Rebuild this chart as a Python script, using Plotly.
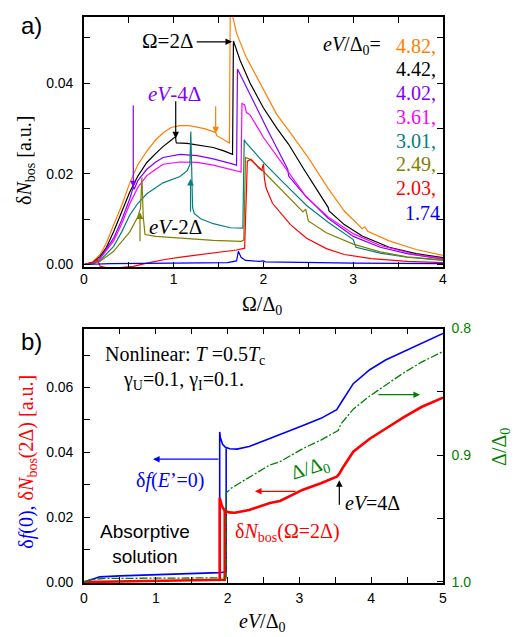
import plotly.graph_objects as go

# ---------------- panel a: delta N_bos(Omega) for several bias voltages ----------------
bias_labels = ["4.82,", "4.42,", "4.02,", "3.61,", "3.01,", "2.49,", "2.03,", "1.74"]
bias_colors = ["#ff8000", "#000000", "#8000ff", "#ff00ff", "#008080", "#808000", "#ff0000", "#0000ff"]

om_482 = [0, 0.1, 0.18, 0.25, 0.33, 0.42, 0.51, 0.6, 0.7, 0.8, 0.88, 0.97, 1.07, 1.17, 1.26, 1.35, 1.44, 1.47, 1.48,
          1.55, 1.62, 1.63, 1.7, 1.8, 2.0, 2.15, 2.3, 2.5, 2.72, 2.9, 3.1, 3.13, 3.16, 3.4, 3.7, 4.0]
n_482 = [0, 0.0006, 0.0022, 0.0048, 0.0087, 0.013, 0.018, 0.022, 0.025, 0.0275, 0.029, 0.0302, 0.0306, 0.0306, 0.0303,
         0.0299, 0.0293, 0.029, 0.0284, 0.0276, 0.0268, 0.057, 0.051, 0.046, 0.0385, 0.033, 0.029, 0.0235, 0.0168,
         0.0118, 0.0079, 0.0083, 0.0073, 0.0052, 0.0033, 0.002]

om_442 = [0, 0.1, 0.18, 0.25, 0.33, 0.42, 0.51, 0.6, 0.7, 0.8, 0.88, 0.97, 1.02, 1.025, 1.03, 1.15, 1.3, 1.44, 1.55,
          1.63, 1.655, 1.665, 1.74, 1.85, 2.0, 2.15, 2.28, 2.45, 2.6, 2.72, 2.73, 2.9, 3.1, 3.4, 3.7, 4.0]
n_442 = [0, 0.0005, 0.0018, 0.0038, 0.0072, 0.0115, 0.016, 0.0195, 0.0225, 0.0245, 0.026, 0.0274, 0.0282, 0.0272,
         0.0268, 0.0267, 0.0263, 0.0258, 0.0251, 0.0246, 0.0243, 0.0493, 0.045, 0.040, 0.0345, 0.030, 0.0265, 0.021,
         0.0163, 0.0126, 0.0118, 0.0088, 0.0063, 0.0038, 0.0024, 0.0015]

om_402 = [0, 0.1, 0.18, 0.33, 0.42, 0.51, 0.545, 0.55, 0.56, 0.6, 0.7, 0.8, 0.88, 1.07, 1.26, 1.44, 1.63, 1.7, 1.71,
          1.76, 1.9, 2.05, 2.2, 2.27, 2.28, 2.45, 2.72, 3.0, 3.3, 3.6, 4.0]
n_402 = [0, 0.0004, 0.0014, 0.0058, 0.0098, 0.0145, 0.0168, 0.0172, 0.0166, 0.0185, 0.021, 0.0226, 0.0236, 0.0243,
         0.024, 0.0233, 0.0223, 0.0219, 0.0431, 0.041, 0.0355, 0.0295, 0.0235, 0.021, 0.0195, 0.0155, 0.0102, 0.0062,
         0.0038, 0.0024, 0.0012]

om_361 = [0, 0.1, 0.18, 0.33, 0.42, 0.51, 0.6, 0.7, 0.8, 0.88, 1.07, 1.26, 1.44, 1.63, 1.75, 1.76, 1.79, 1.81, 1.85,
          2.0, 2.2, 2.48, 2.72, 3.0, 3.3, 3.6, 3.62, 4.0]
n_361 = [0, 0.0003, 0.0013, 0.0052, 0.009, 0.0134, 0.017, 0.0196, 0.021, 0.0221, 0.0226, 0.0225, 0.0219, 0.021, 0.0204,
         0.0355, 0.0352, 0.0335, 0.033, 0.028, 0.0225, 0.0148, 0.0105, 0.0068, 0.0042, 0.0027, 0.0024, 0.0013]

om_301 = [0, 0.1, 0.18, 0.33, 0.42, 0.51, 0.6, 0.7, 0.88, 1.07, 1.15, 1.18, 1.19, 1.21, 1.23, 1.3, 1.44, 1.63, 1.77,
          1.785, 1.8, 2.0, 2.2, 2.48, 2.72, 2.99, 3.0, 3.03, 3.3, 3.6, 4.0]
n_301 = [0, 0.0002, 0.0009, 0.004, 0.0072, 0.0109, 0.0135, 0.0156, 0.018, 0.0194, 0.0207, 0.022, 0.0293, 0.0125,
         0.0112, 0.0101, 0.009, 0.0081, 0.008, 0.0275, 0.027, 0.0225, 0.0185, 0.013, 0.0093, 0.0058, 0.0055, 0.0038,
         0.0025, 0.0016, 0.0009]

om_249 = [0, 0.1, 0.18, 0.33, 0.51, 0.6, 0.63, 0.645, 0.66, 0.68, 0.8, 1.07, 1.44, 1.75, 1.78, 1.80, 1.85, 2.0, 2.2,
          2.44, 2.47, 2.5, 2.7, 3.0, 3.3, 3.6, 4.0]
n_249 = [0, 0.0002, 0.0007, 0.0029, 0.0072, 0.0105, 0.0125, 0.0192, 0.0105, 0.0066, 0.0062, 0.0058, 0.0053, 0.0051,
         0.0054, 0.0236, 0.0232, 0.0205, 0.0165, 0.0116, 0.0122, 0.0096, 0.007, 0.0045, 0.0028, 0.0017, 0.001]

om_203 = [0, 0.1, 0.14, 0.16, 0.18, 0.25, 0.4, 0.55, 0.7, 0.9, 1.1, 1.3, 1.5, 1.7, 1.79, 1.82, 1.86, 1.95, 1.98, 2.0,
          2.01, 2.03, 2.1, 2.3, 2.48, 2.7, 2.9, 3.2, 3.6, 4.0]
n_203 = [0, 0.0004, 0.0012, 0.0006, -0.0004, -0.0007, -0.0007, -0.0004, 0.0003, 0.0011, 0.0017, 0.0022, 0.0027, 0.0032,
         0.0036, 0.0228, 0.0232, 0.0212, 0.0208, 0.0222, 0.019, 0.0168, 0.0135, 0.0088, 0.0058, 0.0035, 0.0022,
         0.0013, 0.0007, 0.0004]

om_174 = [0, 0.3, 1.0, 1.6, 1.7, 1.72, 1.75, 1.8, 1.95, 2.0, 2.02, 2.5, 3.0, 4.0]
n_174 = [0, 0.0002, 0.0003, 0.0004, 0.0008, 0.0029, 0.0016, 0.0009, 0.0007, 0.0008, 0.0006, 0.0004, 0.0003, 0.0002]

panel_a = [(om_482, n_482), (om_442, n_442), (om_402, n_402), (om_361, n_361),
           (om_301, n_301), (om_249, n_249), (om_203, n_203), (om_174, n_174)]

# ---------------- panel b: nonlinear response vs bias ----------------
ev_df = [0, 0.1, 0.22, 0.5, 1.0, 1.5, 1.8, 1.89, 1.94, 1.98, 1.98, None,
         1.89, 1.89, 1.9, 1.93, 1.97, 2.03, 2.13, 2.3, 2.59, 2.73, 3.05, 3.3, 3.52, 3.56, 3.6, 3.75, 3.98, 4.2, 4.45,
         4.7, 5.0]
df0 = [0, 0.0008, 0.0016, 0.0019, 0.0022, 0.0025, 0.0027, 0.0029, 0.003, 0.0031, 0.0413, None,
       0.0029, 0.0463, 0.0445, 0.0425, 0.0416, 0.0411, 0.041, 0.0418, 0.0442, 0.0455, 0.0483, 0.0505, 0.0532, 0.0545,
       0.056, 0.0612, 0.0655, 0.0685, 0.0711, 0.0738, 0.0767]

ev_nb = [0, 0.5, 1.0, 1.5, 1.87, 1.89, 1.96, 1.96, None,
         1.89, 1.89, 1.92, 1.96, 2.02, 2.1, 2.3, 2.59, 2.73, 3.05, 3.3, 3.52, 3.55, 3.6, 3.75, 3.98, 4.2, 4.45, 4.7, 5.0]
nb2d = [0, 0.0002, 0.0003, 0.0005, 0.0006, 0.0006, 0.0007, 0.0219, None,
        0.0006, 0.026, 0.0235, 0.022, 0.0215, 0.0214, 0.0222, 0.0244, 0.025, 0.0285, 0.0305, 0.0325, 0.0332, 0.0351,
        0.0402, 0.0442, 0.0473, 0.0508, 0.054, 0.0569]

ev_gap = [0, 0.1, 0.3, 1.0, 1.5, 1.9, 1.98, 1.98, 2.05, 2.13, 2.36, 2.59, 2.73, 3.05, 3.3, 3.54, 3.58, 3.75, 3.98,
          4.2, 4.45, 4.7, 5.0]
gap = [1.0, 0.998, 0.9972, 0.997, 0.9969, 0.9968, 0.9967, 0.9297, 0.926, 0.9232, 0.9154, 0.9076, 0.905, 0.8947,
       0.888, 0.8804, 0.8752, 0.8636, 0.8532, 0.8445, 0.835, 0.8265, 0.8181]

SERIF = "Liberation Serif"
SANS = "Liberation Sans"
GREEN = "#008000"

fig = go.Figure()
for (xs, ys), col in zip(panel_a, bias_colors):
    fig.add_trace(go.Scatter(x=xs, y=ys, mode="lines", line=dict(color=col, width=1.2),
                             xaxis="x", yaxis="y", showlegend=False, hoverinfo="skip"))

fig.add_trace(go.Scatter(x=ev_gap, y=gap, mode="lines", line=dict(color=GREEN, width=1.3, dash="8px,2px,2px,2px"),
                         xaxis="x2", yaxis="y3", showlegend=False, connectgaps=False))
fig.add_trace(go.Scatter(x=ev_df, y=df0, mode="lines", line=dict(color="#0000ff", width=1.6),
                         xaxis="x2", yaxis="y2", showlegend=False, connectgaps=False))
fig.add_trace(go.Scatter(x=ev_nb, y=nb2d, mode="lines", line=dict(color="#ff0000", width=2.6),
                         xaxis="x2", yaxis="y2", showlegend=False, connectgaps=False))

tickfont = dict(family=SANS, size=14, color="black")
common = dict(showline=True, linecolor="black", linewidth=1.6, ticks="inside", ticklen=6, tickwidth=1.2,
              tickcolor="black", showgrid=False, zeroline=False, tickfont=tickfont)
minor_common = dict(ticks="inside", ticklen=6, tickwidth=1.2, tickcolor="black", showgrid=False)

fig.update_layout(
    width=526, height=637, margin=dict(l=84, r=83, t=9, b=54),
    paper_bgcolor="white", plot_bgcolor="white",
    xaxis=dict(domain=[0, 1], anchor="y", range=[0, 4], tick0=0, dtick=1, mirror="ticks",
               minor=dict(dtick=0.5, **minor_common), ticklabelstandoff=-2, **common),
    yaxis=dict(domain=[0.5575, 1], anchor="x", range=[-0.00065, 0.05457], tick0=0, dtick=0.02, tickformat=".2f",
               mirror="ticks", minor=dict(dtick=0.01, **minor_common), ticklabelstandoff=6, **common),
    xaxis2=dict(domain=[0, 1], anchor="y2", range=[0, 5], tick0=0, dtick=1, mirror="ticks",
                minor=dict(dtick=0.5, **minor_common), ticklabelstandoff=1, **common),
    yaxis2=dict(domain=[0, 0.4495], anchor="x2", range=[-0.0003, 0.0782], tick0=0, dtick=0.02, tickformat=".2f",
                mirror=False, minor=dict(dtick=0.01, **minor_common), ticklabelstandoff=6, **common),
    yaxis3=dict(overlaying="y2", anchor="x2", side="right", range=[1.0008, 0.8], tick0=0.8, dtick=0.1,
                tickformat=".1f", minor=dict(dtick=0.05, **minor_common), ticklabelstandoff=4,
                showline=True, linecolor="black", linewidth=1.6, ticks="inside", ticklen=6, tickwidth=1.2,
                tickcolor="black", showgrid=False, zeroline=False,
                tickfont=dict(family=SANS, size=14, color=GREEN)),
)

ann = []


def text(x, y, s, size=20, color="black", family=SERIF, xref="x", yref="y", xanchor="center", yanchor="middle",
         angle=0):
    ann.append(dict(x=x, y=y, xref=xref, yref=yref, text=s, showarrow=False, xanchor=xanchor, yanchor=yanchor,
                    textangle=angle, font=dict(family=family, size=size, color=color)))


def arrow(x0, y0, x1, y1, color="black", xref="x", yref="y"):
    ann.append(dict(x=x1, y=y1, ax=x0, ay=y0, xref=xref, yref=yref, axref=xref, ayref=yref, text="",
                    showarrow=True, arrowhead=2, arrowsize=1.1, arrowwidth=1.2, arrowcolor=color,
                    standoff=0, startstandoff=0))


def px(xp, yp):
    # pixel position -> paper coordinates
    return (xp - 84) / 359.0, (583 - yp) / 574.0


# panel a annotations
text(0.925, 0.0493, "Ω=2Δ", size=21)
arrow(1.24, 0.0491, 1.65, 0.0491)
text(1.003, 0.0376, "<i>eV</i>-4Δ", size=21, color="#8000ff")
arrow(1.022, 0.0363, 1.022, 0.0278)
arrow(1.467, 0.0352, 1.467, 0.0289, color="#ff8000")
arrow(0.549, 0.0354, 0.549, 0.0170, color="#8000ff")
arrow(1.187, 0.0113, 1.187, 0.0189, color="#008080")
arrow(0.624, 0.0048, 0.624, 0.0115, color="#808000")
text(1.014, 0.0083, "<i>eV</i>-2Δ", size=21)
text(3.33, 0.04826, "<i>eV</i>/Δ<sub>0</sub>=", size=20, xanchor="right")
label_rows = [38, 61.7, 86, 110, 135, 158, 182, 208]
for lab, col, yp in zip(bias_labels, bias_colors, label_rows):
    xp = 403 if lab == "1.74" else 394
    text((xp - 84) / 89.75, (260 - yp) / 4600.0, lab, size=20, color=col, xanchor="left")

# panel b annotations
text(1.41, 0.0700, "Nonlinear: <i>T</i> =0.5<i>T</i><sub>c</sub>", size=20, xref="x2", yref="y2")
text(1.38, 0.0621, "γ<sub>U</sub>=0.1, γ<sub>I</sub>=0.1.", size=20, xref="x2", yref="y2")
text(1.20, 0.0314, "δ<i>f</i>(<i>E</i>’=0)", size=20, color="#0000ff", xref="x2", yref="y2")
arrow(1.894, 0.0379, 0.961, 0.0379, color="#0000ff", xref="x2", yref="y2")
text(3.15, 0.0350, "Δ/Δ<sub>0</sub>", size=20, color=GREEN, xref="x2", yref="y2", angle=-18)
arrow(4.08, 0.0578, 4.68, 0.0578, color=GREEN, xref="x2", yref="y2")
arrow(2.967, 0.0280, 2.38, 0.0280, color="#ff0000", xref="x2", yref="y2")
arrow(3.556, 0.0234, 3.556, 0.0314, xref="x2", yref="y2")
text(3.607, 0.0244, "<i>eV</i>=4Δ", size=20, xref="x2", yref="y2", xanchor="left")
text(2.84, 0.0152, "δ<i>N</i><sub>bos</sub>(Ω=2Δ)", size=20, color="#ff0000", xref="x2", yref="y2")
text(0.85, 0.0116, "Absorptive<br>solution", size=19, family=SANS, xref="x2", yref="y2")

# panel labels and axis titles
x, y = px(31, 18)
text(x, y, "a)", size=24, family=SANS, xref="paper", yref="paper")
x, y = px(31, 338)
text(x, y, "b)", size=24, family=SANS, xref="paper", yref="paper")
x, y = px(26, 155)
text(x, y, "δ<i>N</i><sub>bos</sub> [a.u.]", size=20, xref="paper", yref="paper", angle=-90)
x, y = px(262, 302)
text(x, y, "Ω/Δ<sub>0</sub>", size=20, xref="paper", yref="paper")
x, y = px(28, 460)
text(x, y, '<span style="color:#0000ff">δ<i>f</i>(0),</span> '
           '<span style="color:#ff0000">δ<i>N</i><sub>bos</sub>(2Δ) [a.u.]</span>',
     size=20, xref="paper", yref="paper", angle=-90)
x, y = px(501, 445)
text(x, y, "Δ/Δ<sub>0</sub>", size=20, color=GREEN, xref="paper", yref="paper", angle=-90)
x, y = px(262, 623)
text(x, y, "<i>eV</i>/Δ<sub>0</sub>", size=20, xref="paper", yref="paper")

fig.update_layout(annotations=ann)
fig.write_html("out.html")
